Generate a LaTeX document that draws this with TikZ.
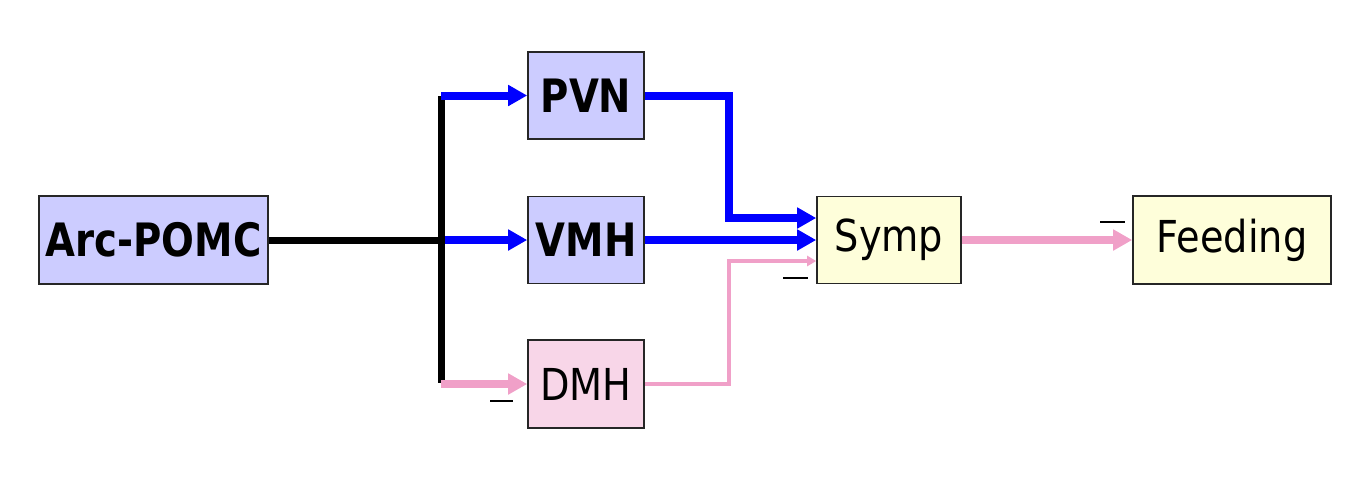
\documentclass[tikz,border=0pt]{standalone}
\usepackage{fontspec}
\usetikzlibrary{arrows.meta}
\newfontfamily\regfont[FakeStretch=0.87]{DejaVu Sans}
\newfontfamily\boldfont[FakeStretch=0.84]{DejaVu Sans Bold}
\definecolor{lav}{RGB}{204,204,255}
\definecolor{pinkfill}{RGB}{248,214,232}
\definecolor{yel}{RGB}{254,254,218}
\definecolor{pinkline}{RGB}{240,160,200}
\definecolor{bluel}{RGB}{0,0,255}
\tikzset{
  box/.style={draw=black!85, line width=0.8pt, inner sep=0pt, anchor=center},
  bbox/.style={box, fill=lav, font=\boldfont\fontsize{23}{26}\selectfont},
  rbox/.style={box, font=\regfont\fontsize{22}{25}\selectfont},
  bus/.style={line width=3.5pt, black},
  thickblue/.style={line width=4pt, bluel, line join=miter, -{Triangle[length=9.5pt,width=10pt]}},
  thickpink/.style={line width=4pt, pinkline, -{Triangle[length=9.5pt,width=10pt]}},
  thinpink/.style={line width=1.6pt, pinkline, line join=miter, -{Triangle[length=4.5pt,width=5pt]}},
  minus/.style={line width=0.75pt, black}
}
\begin{document}
\begin{tikzpicture}[x=0.5pt,y=-0.5pt]
\useasboundingbox (0,0) rectangle (1364,484);
\node[bbox, minimum width=114.5pt, minimum height=44pt] (arc) at (153.5,240) {Arc-POMC};
\node[bbox, minimum width=58pt, minimum height=43.5pt] (pvn) at (586,95.5) {PVN};
\node[bbox, minimum width=58pt, minimum height=43.5pt] (vmh) at (586,240) {VMH};
\node[rbox, fill=pinkfill, minimum width=58pt, minimum height=44pt] (dmh) at (586,384) {DMH};
\node[rbox, fill=yel, minimum width=72pt, minimum height=43.5pt] (symp) at (889,240) {Symp};
\node[rbox, fill=yel, minimum width=99pt, minimum height=44pt] (feed) at (1232,240) {Feeding};
\coordinate (btop) at (441,96);
\coordinate (bbot) at (441,383);
\coordinate (bmid) at (441,240);
\coordinate (ptop) at (441,95.5);
\coordinate (dst) at (441,384);
\coordinate (vst) at (445,240);
\coordinate (pvnc) at (729,95.5);
\coordinate (pvnd) at (729,218);
\coordinate (dmhc) at (729,384);
\coordinate (dmhu) at (729,261);
% bus
\draw[bus] (arc.east) -- (bmid);
\draw[bus] (btop) -- (bbot);
% into nuclei
\draw[thickblue] (ptop) -- (pvn.west);
\draw[thickblue] (vst) -- (vmh.west);
\draw[thickpink] (dst) -- (dmh.west);
% into Symp
\draw[thickblue] (pvn.east) -- (pvnc) -- (pvnd) -- ([yshift=11pt]symp.west);
\draw[thickblue] (vmh.east) -- (symp.west);
\draw[thinpink] (dmh.east) -- (dmhc) -- (dmhu) -- ([yshift=-10.5pt]symp.west);
\draw[thickpink] (symp.east) -- (feed.west);
% minus marks
\draw[minus] (490,401) -- (513,401);
\draw[minus] (783,278) -- (808,278);
\draw[minus] (1100,222) -- (1125,222);
\end{tikzpicture}
\end{document}
